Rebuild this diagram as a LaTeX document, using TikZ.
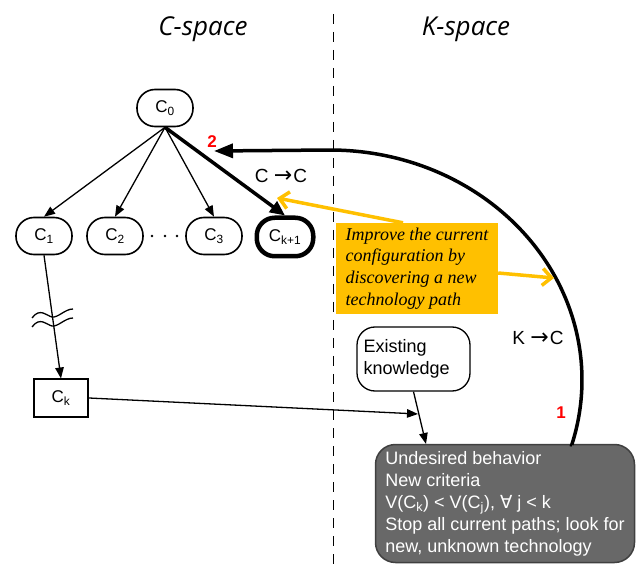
\documentclass[tikz,border=0pt]{standalone}
\usepackage{fontspec}
\setmainfont{Liberation Sans}
\newfontfamily\notefont{Liberation Serif}
\newfontfamily\titlefont{Open Sans}
\newfontfamily\symfont{DejaVu Sans}
\usetikzlibrary{arrows.meta}

\definecolor{ochre}{HTML}{FFC000}
\definecolor{slate}{HTML}{686868}
\definecolor{numred}{HTML}{FF0000}

% arrow glyph used in the transition labels
\newcommand{\transarrow}{{\symfont\fontsize{22}{22}\selectfont →}}

\begin{document}
\begin{tikzpicture}[x=1pt,y=-1pt,
  cnode/.style={draw, line width=1.6pt, rounded corners=18pt,
    minimum width=56pt, minimum height=37pt, inner sep=0pt,
    font=\fontsize{17}{20}\selectfont},
  thinarrow/.style={line width=1.3pt, -{Triangle[length=11pt,width=8.5pt]}},
  bigarrow/.style={line width=3.5pt, -{Triangle[length=19pt,width=14pt]}},
  notearrow/.style={draw=ochre, line width=3.5pt,
    -{Straight Barb[length=9pt,width=17pt]}},
  lbl/.style={font=\fontsize{19}{22}\selectfont, inner sep=0pt},
  num/.style={font=\fontsize{17}{20}\selectfont\bfseries, text=numred, inner sep=0pt},
  title/.style={font=\titlefont\itshape\fontsize{26}{30}\selectfont, inner sep=0pt},
  wave/.style={line width=1.3pt}
]
\useasboundingbox (0,0) rectangle (638,564);

% separator between the two spaces
\coordinate (dtop) at (333,14);
\coordinate (dbot) at (333,564);
\draw[line width=1pt, dash pattern=on 10pt off 8pt] (dtop) -- (dbot);

\node[title] (ctitle) at (203,29) {C-space};
\node[title] (ktitle) at (466,29) {K-space};

% configuration tree
\node[cnode] (c0) at (165,108) {C\textsubscript{0}};
\node[cnode] (c1) at (44,236) {C\textsubscript{1}};
\node[cnode] (c2) at (115,236) {C\textsubscript{2}};
\node[cnode] (c3) at (214,236) {C\textsubscript{3}};
\node[cnode, line width=4.5pt, minimum width=56.5pt, minimum height=38.5pt] (ck1) at (285,237) {C\textsubscript{k+1}};
\node[draw, line width=2pt, minimum width=54pt, minimum height=37pt, inner sep=0pt,
  font=\fontsize{17}{20}\selectfont] (ck) at (61,398) {C\textsubscript{k}};

\foreach \px in {152,165,177}
  \fill (\px,236) circle (1.4pt);

\draw[thinarrow] (c0.south) -- (c1.north);
\draw[thinarrow] (c0.south) -- (c2.north);
\draw[thinarrow] (c0.south) -- (c3.north);
\draw[line width=3.5pt, -{Triangle[length=15pt,width=13pt]}] (c0.south) -- (ck1.north);
\draw[thinarrow] (c1.south) -- (ck.north);

% break marks on the long branch
\draw[wave] (32,318) .. controls (40,307) and (47,316) .. (52,317)
            .. controls (58,318) and (65,309) .. (73,309);
\draw[wave] (32,327) .. controls (40,316) and (47,325) .. (52,326)
            .. controls (58,327) and (65,318) .. (73,318);

% knowledge side
\node[draw, line width=1.3pt, rounded corners=18pt, minimum width=113pt,
  minimum height=64pt, text width=100pt, align=left, inner sep=0pt,
  font=\fontsize{18}{22}\selectfont] (ek) at (413.5,359) {Existing\\knowledge};

\node[draw=black!75, fill=slate, line width=1.5pt, rounded corners=20pt,
  minimum width=259pt, minimum height=118pt, inner sep=0pt, align=left,
  text=white, font=\fontsize{18}{22}\selectfont] (und) at (505,503.5)
  {Undesired behavior\\
   New criteria\\
   V(C\textsubscript{k}) < V(C\textsubscript{j}), {\symfont ∀} j < k\\
   Stop all current paths; look for\\
   new, unknown technology};

\coordinate (meet) at (418,414);
\coordinate (gin) at (426,444);
\draw[thinarrow] (ck.east) -- (meet);
\draw[thinarrow] (ek.south) -- (gin);

% return path from K-space to C-space
\coordinate (k1) at (572,445);
\coordinate (tip2) at (214,151);
\draw[bigarrow] (k1) -- plot[domain=16.4:-90, samples=60, smooth]
  ({330+252*cos(\x)},{380+230*sin(\x)}) -- (tip2);

\node[num] (n2) at (212,142) {2};
\node[num] (n1) at (561,413) {1};
\node[lbl] (cc) at (281,176) {C \transarrow\kern1pt C};
\node[lbl] (kc) at (538,338) {K \transarrow\kern1pt C};

% annotation
\node[fill=ochre, minimum width=162pt, minimum height=91pt, inner sep=0pt,
  align=left, font=\notefont\itshape\fontsize{18}{21.7}\selectfont]
  (note) at (417,268.5)
  {Improve the current\\configuration by\\discovering a new\\technology path};

\coordinate (y1tip) at (277,198);
\coordinate (y2tip) at (554,278);
\draw[notearrow] ([xshift=-14pt]note.north) -- (y1tip);
\draw[notearrow] ([yshift=-4.5pt]note.east) -- (y2tip);
\end{tikzpicture}
\end{document}
